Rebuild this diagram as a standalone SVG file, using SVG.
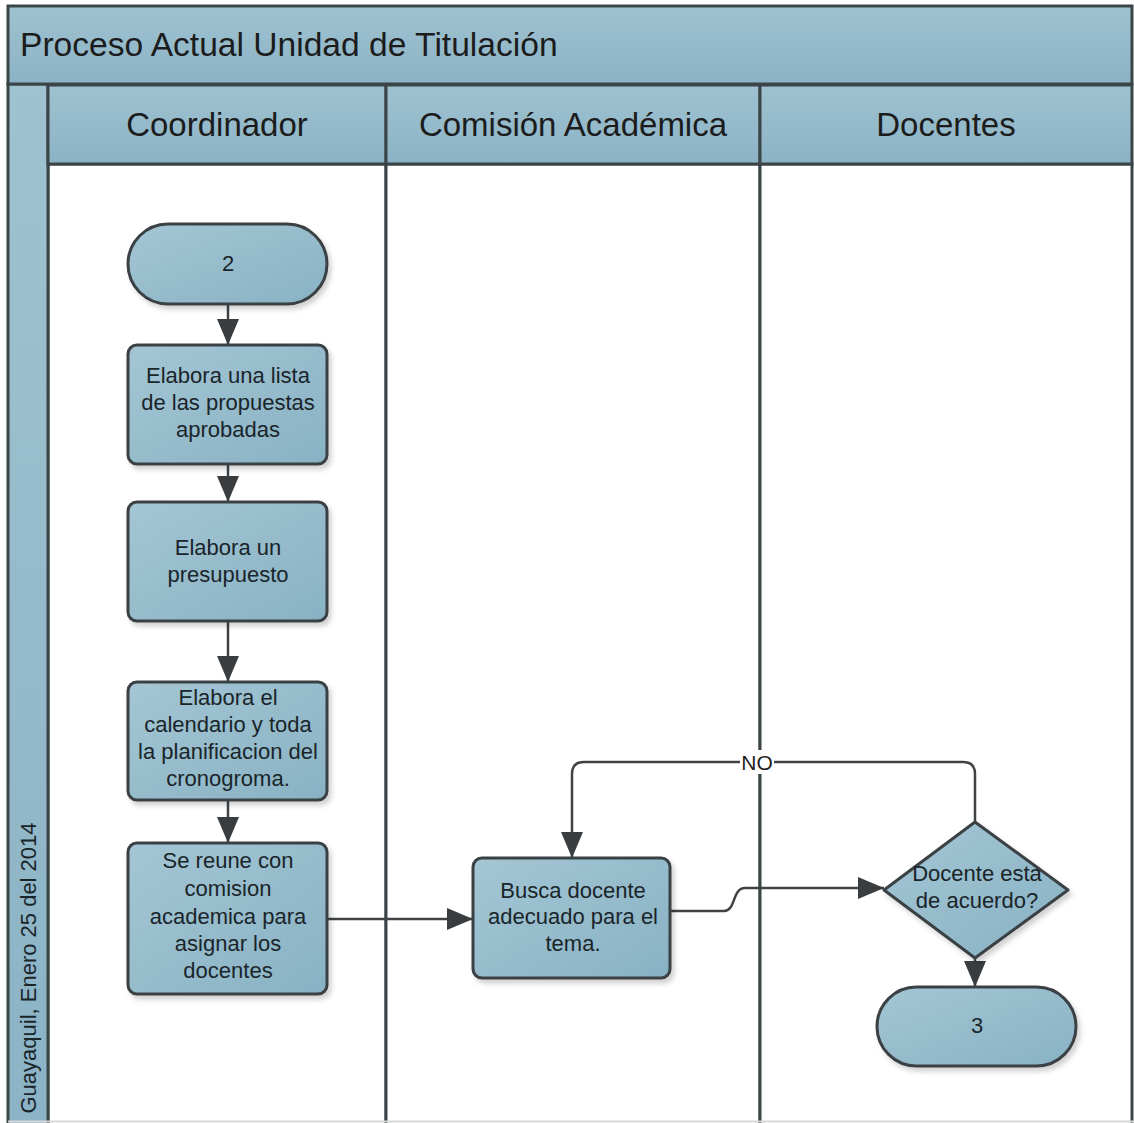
<svg xmlns="http://www.w3.org/2000/svg" width="1134" height="1123" viewBox="0 0 1134 1123">
  <defs>
    <linearGradient id="gNode" x1="0" y1="0" x2="1" y2="1">
      <stop offset="0" stop-color="#a4c6d4"/>
      <stop offset="1" stop-color="#88b2c4"/>
    </linearGradient>
    <linearGradient id="gBand" x1="0" y1="0" x2="0" y2="1">
      <stop offset="0" stop-color="#9fc2d1"/>
      <stop offset="1" stop-color="#8bb3c5"/>
    </linearGradient>
    <filter id="shadow" x="-10%" y="-10%" width="130%" height="130%">
      <feDropShadow dx="3" dy="4" stdDeviation="2.5" flood-color="#000" flood-opacity="0.18"/>
    </filter>
    <marker id="arrow" markerUnits="userSpaceOnUse" markerWidth="28" markerHeight="24" refX="26" refY="11" orient="auto">
      <path d="M0,0 L26,11 L0,22 Z" fill="#3a3d3f"/>
    </marker>
    <style>
      .band { fill: url(#gBand); stroke: #3b4447; stroke-width: 3; }
      .lane { fill: #ffffff; stroke: #3b4447; stroke-width: 3; }
      .node { fill: url(#gNode); stroke: #3a4144; stroke-width: 3; filter: url(#shadow); }
      .hdr { font-family: "Liberation Sans", Arial, sans-serif; font-size: 33px; fill: #1c1c1c; text-anchor: middle; }
      .title { font-family: "Liberation Sans", Arial, sans-serif; font-size: 33.6px; fill: #1c1c1c; }
      .txt { font-family: "Liberation Sans", Arial, sans-serif; font-size: 22px; fill: #1a252a; text-anchor: middle; }
      .conn { fill: none; stroke: #3f4345; stroke-width: 2.5; }
      .lbl { font-family: "Liberation Sans", Arial, sans-serif; font-size: 21px; fill: #1e1e1e; text-anchor: middle; }
    </style>
  </defs>

  <rect width="1134" height="1123" fill="#ffffff"/>

  <!-- pool frame, title and lanes -->
  <g id="pool">
    <rect class="lane" x="48" y="164" width="338" height="970"/>
    <rect class="lane" x="386" y="164" width="374" height="970"/>
    <rect class="lane" x="760" y="164" width="372" height="970"/>
    <rect class="band" x="8" y="84" width="40" height="1050"/>
    <rect class="band" x="8" y="6" width="1124" height="78"/>
    <rect class="band" x="48" y="85" width="338" height="79"/>
    <rect class="band" x="386" y="85" width="374" height="79"/>
    <rect class="band" x="760" y="85" width="372" height="79"/>
    <line x1="8" y1="1121.5" x2="1134" y2="1121.5" stroke="#d8d8d8" stroke-width="2"/>
    <text class="title" x="20" y="56">Proceso Actual Unidad de Titulación</text>
    <text class="hdr" x="217" y="136">Coordinador</text>
    <text class="hdr" x="573" y="136">Comisión Académica</text>
    <text class="hdr" x="946" y="136">Docentes</text>
    <text class="txt" transform="translate(36 968) rotate(-90)" x="0" y="0">Guayaquil, Enero 25 del 2014</text>
  </g>

  <!-- connectors -->
  <g id="connectors">
    <path class="conn" d="M228,305 L228,345" marker-end="url(#arrow)"/>
    <path class="conn" d="M228,464 L228,502" marker-end="url(#arrow)"/>
    <path class="conn" d="M228,621 L228,682" marker-end="url(#arrow)"/>
    <path class="conn" d="M228,800 L228,843" marker-end="url(#arrow)"/>
    <path class="conn" d="M327,919 L473,919" marker-end="url(#arrow)"/>
    <path class="conn" d="M670,911 L724,911 C736,911 732,888 745,888 L884,888" marker-end="url(#arrow)"/>
    <path class="conn" d="M975,823 L975,774 Q975,762 963,762 L584,762 Q572,762 572,774 L572,858" marker-end="url(#arrow)"/>
    <path class="conn" d="M975,958 L975,987" marker-end="url(#arrow)"/>
    <rect x="740" y="750" width="34" height="24" fill="#ffffff"/>
    <text class="lbl" x="757" y="770">NO</text>
  </g>

  <g id="start2">
    <rect class="node" x="128" y="224" width="199" height="80" rx="40"/>
    <text class="txt" x="228" y="271">2</text>
  </g>

  <g id="lista">
    <rect class="node" x="128" y="345" width="199" height="119" rx="9"/>
    <text class="txt" x="228" y="383">Elabora una lista</text>
    <text class="txt" x="228" y="410">de las propuestas</text>
    <text class="txt" x="228" y="437">aprobadas</text>
  </g>

  <g id="presupuesto">
    <rect class="node" x="128" y="502" width="199" height="119" rx="9"/>
    <text class="txt" x="228" y="555">Elabora un</text>
    <text class="txt" x="228" y="582">presupuesto</text>
  </g>

  <g id="calendario">
    <rect class="node" x="128" y="682" width="199" height="118" rx="9"/>
    <text class="txt" x="228" y="705">Elabora el</text>
    <text class="txt" x="228" y="732">calendario y toda</text>
    <text class="txt" x="228" y="759">la planificacion del</text>
    <text class="txt" x="228" y="786">cronogroma.</text>
  </g>

  <g id="reunion">
    <rect class="node" x="128" y="843" width="199" height="151" rx="9"/>
    <text class="txt" x="228" y="868">Se reune con</text>
    <text class="txt" x="228" y="896">comision</text>
    <text class="txt" x="228" y="924">academica para</text>
    <text class="txt" x="228" y="951">asignar los</text>
    <text class="txt" x="228" y="978">docentes</text>
  </g>

  <g id="busca">
    <rect class="node" x="473" y="858" width="197" height="120" rx="9"/>
    <text class="txt" x="573" y="898">Busca docente</text>
    <text class="txt" x="573" y="924">adecuado para el</text>
    <text class="txt" x="573" y="951">tema.</text>
  </g>

  <g id="decision">
    <path class="node" d="M975,822 L1068,890 L975,958 L884,890 Z" stroke-linejoin="round"/>
    <text class="txt" x="977" y="881">Docente esta</text>
    <text class="txt" x="977" y="908">de acuerdo?</text>
  </g>

  <g id="end3">
    <rect class="node" x="877" y="987" width="199" height="79" rx="39.5"/>
    <text class="txt" x="977" y="1033">3</text>
  </g>
</svg>
